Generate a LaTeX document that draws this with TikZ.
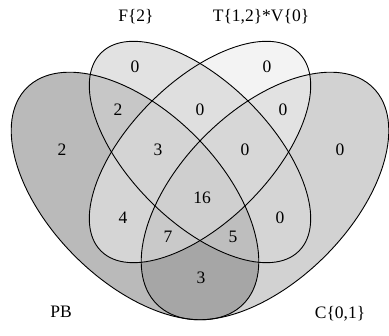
\documentclass[tikz,border=0pt]{standalone}
\usepackage{fontspec}
\setmainfont{Liberation Serif}
\begin{document}
% Four-set Venn diagram built from four rotated ellipses
\newcommand\ellPB[1]{\path[#1, rotate around={-45:(135,140)}] (135,140) ellipse [x radius=153, y radius=85];}
\newcommand\ellC[1]{\path[#1, rotate around={45:(265,140)}] (265,140) ellipse [x radius=153, y radius=85];}
\newcommand\ellF[1]{\path[#1, rotate around={-45:(200,184)}] (200,184) ellipse [x radius=140, y radius=70];}
\newcommand\ellT[1]{\path[#1, rotate around={45:(200,184)}] (200,184) ellipse [x radius=140, y radius=70];}
\definecolor{gP}{gray}{0.73}
\definecolor{gF}{gray}{0.885}
\definecolor{gT}{gray}{0.952}
\definecolor{gC}{gray}{0.822}
\definecolor{gPF}{gray}{0.78}
\definecolor{gPT}{gray}{0.835}
\definecolor{gPC}{gray}{0.65}
\definecolor{gFT}{gray}{0.876}
\definecolor{gFC}{gray}{0.835}
\definecolor{gTC}{gray}{0.885}
\definecolor{gPFT}{gray}{0.83}
\definecolor{gPFC}{gray}{0.745}
\definecolor{gPTC}{gray}{0.79}
\definecolor{gFTC}{gray}{0.845}
\definecolor{gAll}{gray}{0.812}
\begin{tikzpicture}[x=1pt,y=1pt,
  lbl/.style={font=\fontsize{17.5}{20}\selectfont, inner sep=0pt},
  outline/.style={draw=black, line width=0.9pt}]
\useasboundingbox (0,0) rectangle (389,336);
% single sets
\ellPB{fill=gP}
\ellC{fill=gC}
\ellF{fill=gF}
\ellT{fill=gT}
% pairwise overlaps
\begin{scope}\ellPB{clip}\ellF{fill=gPF}\end{scope}
\begin{scope}\ellPB{clip}\ellT{fill=gPT}\end{scope}
\begin{scope}\ellPB{clip}\ellC{fill=gPC}\end{scope}
\begin{scope}\ellF{clip}\ellT{fill=gFT}\end{scope}
\begin{scope}\ellF{clip}\ellC{fill=gFC}\end{scope}
\begin{scope}\ellT{clip}\ellC{fill=gTC}\end{scope}
% triple overlaps
\begin{scope}\ellPB{clip}\ellF{clip}\ellT{fill=gPFT}\end{scope}
\begin{scope}\ellPB{clip}\ellF{clip}\ellC{fill=gPFC}\end{scope}
\begin{scope}\ellPB{clip}\ellT{clip}\ellC{fill=gPTC}\end{scope}
\begin{scope}\ellF{clip}\ellT{clip}\ellC{fill=gFTC}\end{scope}
% all four
\begin{scope}\ellPB{clip}\ellF{clip}\ellT{clip}\ellC{fill=gAll}\end{scope}
% outlines
\ellPB{outline}
\ellC{outline}
\ellF{outline}
\ellT{outline}
% set names
\node[lbl] (nF) at (136,319) {F\{2\}};
\node[lbl] (nT) at (261,319) {T\{1,2\}*V\{0\}};
\node[lbl] (nPB) at (61,24) {PB};
\node[lbl] (nC) at (340,22) {C\{0,1\}};
% region counts
\node[lbl] (rF) at (135,269) {0};
\node[lbl] (rT) at (267,269) {0};
\node[lbl] (rPF) at (118,226) {2};
\node[lbl] (rFT) at (200,226) {0};
\node[lbl] (rTC) at (283,226) {0};
\node[lbl] (rP) at (62,186) {2};
\node[lbl] (rPFT) at (158,186) {3};
\node[lbl] (rFTC) at (245,186) {0};
\node[lbl] (rC) at (340,186) {0};
\node[lbl] (rAll) at (202,138) {16};
\node[lbl] (rPT) at (123,118) {4};
\node[lbl] (rFC) at (280,118) {0};
\node[lbl] (rPTC) at (168,99) {7};
\node[lbl] (rPFC) at (233,99) {5};
\node[lbl] (rPC) at (201,58) {3};
\end{tikzpicture}
\end{document}
